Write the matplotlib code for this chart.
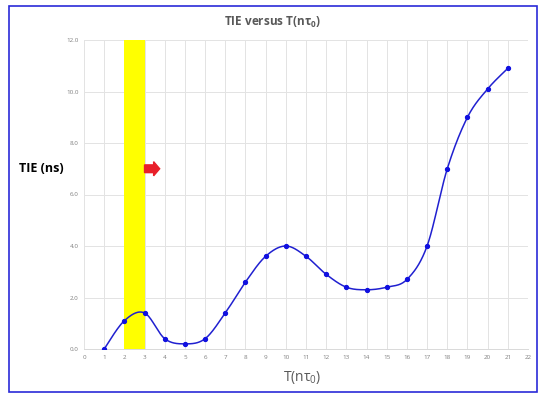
import numpy as np
import matplotlib
matplotlib.use("Agg")
import matplotlib.pyplot as plt
from matplotlib.patches import Rectangle, FancyArrow

# Data
x_vals = [1, 2, 3, 4, 5, 6, 7, 8, 9, 10, 11, 12, 13, 14, 15, 16, 17, 18, 19, 20, 21]
tie_ns = [0.0, 1.1, 1.4, 0.4, 0.2, 0.4, 1.4, 2.6, 3.6, 4.0, 3.6, 2.9, 2.4, 2.3, 2.4, 2.7, 4.0, 7.0, 9.0, 10.1, 10.9]
x_ticks = list(range(0, 23))
y_ticks = [0, 2, 4, 6, 8, 10, 12]
highlight_span = (2, 3)
arrow_start = (3.0, 7.0)
arrow_len = 0.75

title = r"TIE versus T(nτ$_\mathbf{0}$)"
xlabel = "T(nτ$_0$)"
ylabel = "TIE (ns)"


def smooth_curve(xs, ys, n=30):
    P = np.column_stack([xs, ys]).astype(float)
    P = np.vstack([P[0], P, P[-1]])
    out = []
    for i in range(1, len(P) - 2):
        p0, p1, p2, p3 = P[i - 1], P[i], P[i + 1], P[i + 2]
        b1 = p1 + (p2 - p0) / 6.0
        b2 = p2 - (p3 - p1) / 6.0
        t = np.linspace(0, 1, n)[:, None]
        seg = ((1 - t) ** 3) * p1 + 3 * ((1 - t) ** 2) * t * b1 + 3 * (1 - t) * t ** 2 * b2 + t ** 3 * p2
        out.append(seg if i == 1 else seg[1:])
    c = np.vstack(out)
    return c[:, 0], c[:, 1]


plt.rcParams['font.family'] = ['Open Sans', 'DejaVu Sans']
plt.rcParams['mathtext.fontset'] = 'custom'
plt.rcParams['mathtext.rm'] = 'Open Sans'
plt.rcParams['mathtext.it'] = 'Open Sans'
plt.rcParams['mathtext.bf'] = 'Open Sans:bold'

fig = plt.figure(figsize=(5.44, 3.99), dpi=100)
fig.patch.set_facecolor('white')

# Blue outer frame
fig.patches.append(Rectangle((9 / 544, 1 - 392 / 399), (537 - 9) / 544, (392 - 6) / 399,
                             transform=fig.transFigure, fill=False, edgecolor='#2a2ad8', linewidth=1.2))

ax = fig.add_axes([84 / 544, 1 - 349 / 399, (528 - 84) / 544, (349 - 40) / 399])
ax.set_xlim(0, 22)
ax.set_ylim(0, 12)
ax.set_xticks(x_ticks)
ax.set_yticks(y_ticks)
ax.set_xticklabels([str(v) for v in x_ticks])
ax.set_yticklabels([f"{v:.1f}" for v in y_ticks])
ax.tick_params(axis='both', length=0, labelsize=4.5, labelcolor='#7f7f7f', pad=4)
ax.grid(True, color='#e3e3e3', linewidth=0.7)
ax.set_axisbelow(True)
for s in ['top', 'right', 'left']:
    ax.spines[s].set_visible(False)
ax.spines['bottom'].set_color('#d9d9d9')
ax.spines['bottom'].set_linewidth(0.7)

ax.axvspan(highlight_span[0], highlight_span[1], color='#ffff00', zorder=1, linewidth=0)

cx, cy = smooth_curve(x_vals, tie_ns)
ax.plot(cx, cy, color='#2020d0', linewidth=1.1, zorder=3)
ax.plot(x_vals, tie_ns, 'o', color='#1010e0', markersize=2.8, zorder=4)

ax.add_patch(FancyArrow(arrow_start[0], arrow_start[1], arrow_len, 0, width=0.3,
                        head_width=0.55, head_length=0.3, length_includes_head=True,
                        color='#e8202a', zorder=5))

fig.text(273 / 544, 1 - 22 / 399, title, ha='center', va='center',
         fontsize=8.5, fontweight='bold', color='#595959')
fig.text(302 / 544, 1 - 377 / 399, xlabel, ha='center', va='center',
         fontsize=10, color='#595959')
fig.text(41 / 544, 1 - 168 / 399, ylabel, ha='center', va='center',
         fontsize=9, fontweight='bold', color='black')

fig.savefig('out.png', dpi=100)
